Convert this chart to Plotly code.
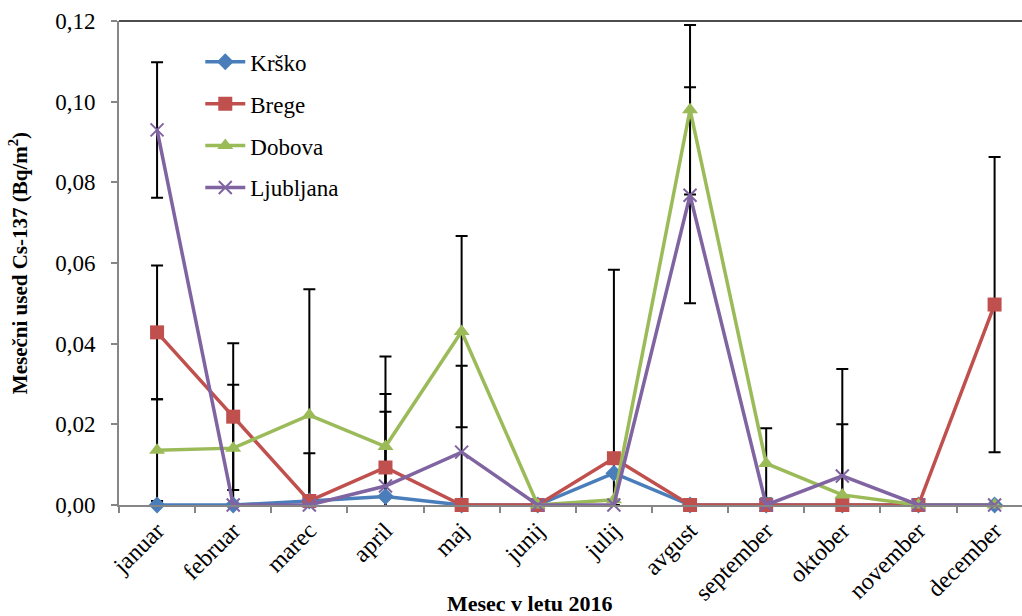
import plotly.graph_objects as go

months = ["januar", "februar", "marec", "april", "maj", "junij",
          "julij", "avgust", "september", "oktober", "november", "december"]

krsko = [0.0, 0.0, 0.001, 0.0021, 0.0, 0.0, 0.0079, 0.0, 0.0, 0.0, 0.0, 0.0]
brege = [0.0428, 0.0219, 0.001, 0.0093, 0.0, 0.0, 0.0116, 0.0, 0.0, 0.0, 0.0, 0.0497]
dobova = [0.0136, 0.0141, 0.0223, 0.0145, 0.043, 0.0, 0.0013, 0.098, 0.0103, 0.0025, 0.0, 0.0]
ljubljana = [0.093, 0.0, 0.0, 0.0047, 0.0131, 0.0, 0.0, 0.0768, 0.0, 0.0072, 0.0, 0.0]

# measurement uncertainties (None = no error bar)
brege_err = [0.0166, 0.0182, 0.0118, 0.0182, None, None, 0.0467, None, None, None, None, 0.0366]
dobova_err = [0.0126, 0.0157, 0.0312, 0.0223, 0.0237, None, None, 0.021, 0.0087, 0.0312, None, None]
ljubljana_err = [0.0168, None, None, 0.0184, 0.0214, None, None, 0.0268, None, 0.0128, None, None]

names = ["Krško", "Brege", "Dobova", "Ljubljana"]
values = [krsko, brege, dobova, ljubljana]
errors = [None, brege_err, dobova_err, ljubljana_err]
colors = ["#4A7EBB", "#C0504D", "#9BBB59", "#8064A2"]
symbols = ["diamond", "square", "triangle-up", "x-thin"]
sizes = [13, 14, 14, 13]

FONT = "'Liberation Serif', 'Times New Roman', serif"

fig = go.Figure()

# error bars, kept inside the plot area
for vals, err in zip(values, errors):
    if err is None:
        continue
    fig.add_trace(go.Scatter(
        x=months, y=vals, mode="markers",
        marker=dict(size=1, opacity=0),
        error_y=dict(type="data", array=[e if e is not None else float("nan") for e in err],
                     symmetric=True, color="black", thickness=2, width=6),
        showlegend=False, hoverinfo="skip", cliponaxis=True,
    ))

for i, (name, vals, col, sym, sz) in enumerate(zip(names, values, colors, symbols, sizes)):
    marker = dict(symbol=sym, size=sz, color=col)
    if sym == "x-thin":
        marker["line"] = dict(color=col, width=2)
    fig.add_trace(go.Scatter(
        x=months, y=vals, name=name, mode="lines+markers",
        line=dict(color=col, width=3.5),
        marker=marker, cliponaxis=False, legendgroup=name,
    ))

fig.update_layout(
    width=1022, height=616,
    margin=dict(l=119, r=0, t=21, b=111),
    paper_bgcolor="white", plot_bgcolor="white",
    separators=", ",
    font=dict(family=FONT, size=23, color="black"),
    showlegend=True,
    legend=dict(x=0.09, y=0.96, xanchor="left", yanchor="top",
                font=dict(family=FONT, size=23, color="black"),
                bgcolor="rgba(0,0,0,0)", tracegroupgap=9, itemwidth=40),
    shapes=[dict(type="line", xref="paper", yref="paper", x0=0, x1=1, y0=1, y1=1,
                 line=dict(color="#4d4d4d", width=2))],
    annotations=[dict(text="<b>Mesec v letu 2016</b>", xref="paper", yref="paper",
                      x=0.455, y=-0.203, xanchor="center", yanchor="middle",
                      showarrow=False, font=dict(family=FONT, size=22, color="black"))],
)

fig.update_xaxes(
    type="category", range=[-0.5, 11.36],
    tickson="boundaries", ticks="outside", ticklen=6, tickcolor="#868686", tickwidth=1.5,
    showline=True, linecolor="#868686", linewidth=2, showgrid=False, zeroline=False,
    tickangle=-45, tickfont=dict(family=FONT, size=24, color="black"),
)
fig.update_yaxes(
    range=[0, 0.12], tickvals=[0, 0.02, 0.04, 0.06, 0.08, 0.10, 0.12], tickformat=".2f",
    ticks="outside", ticklen=6, tickcolor="#868686", tickwidth=1.5, ticklabelstandoff=11,
    showline=True, linecolor="#868686", linewidth=2, showgrid=False, zeroline=False,
    tickfont=dict(family=FONT, size=23, color="black"),
    title=dict(text="<b>Mesečni used Cs-137 (Bq/m<sup>2</sup>)</b>", standoff=22,
               font=dict(family=FONT, size=21, color="black")),
)

fig.write_html("out.html")
